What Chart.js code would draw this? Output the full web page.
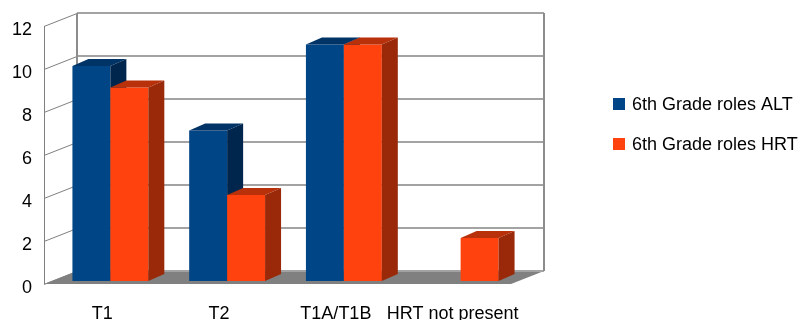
<!DOCTYPE html>
<html lang="en">
  <head>
    <meta charset="utf-8" />
    <title>6th Grade roles</title>
    <style>
      * {
        margin: 0;
        padding: 0;
      }
      body {
        background: white;
      }
      .chartBox {
        width: 802px;
        height: 320px;
      }
    </style>
  </head>
  <body>
    <div class="chartBox">
      <canvas id="myChart"></canvas>
    </div>

    <script src="https://cdn.jsdelivr.net/npm/chart.js"></script>

    <script>
      const categories = ["T1", "T2", "T1A/T1B", "HRT not present"];
      const altValues = [10, 7, 11, 0];
      const hrtValues = [9, 4, 11, 2];
      const seriesNames = ["6th Grade roles ALT", "6th Grade roles HRT"];

      const FONT = "Liberation Sans, Arial, sans-serif";
      // depth of the box and of the bars (pixels)
      const wallDx = 33, wallDy = -13;
      const barDx = 16, barDy = -7;
      const barShiftX = 8, barShiftY = -3;

      const faceColors = [
        { front: "#004586", top: "#003366", side: "#00264d" },
        { front: "#ff420e", top: "#b8310b", side: "#9a2909" },
      ];

      const box3d = {
        id: "box3d",
        beforeDatasetsDraw(chart) {
          const { ctx, chartArea: { left, right, top, bottom }, scales: { y } } = chart;
          ctx.save();
          // left wall
          ctx.fillStyle = "#ffffff";
          ctx.beginPath();
          ctx.moveTo(left, bottom);
          ctx.lineTo(left, top);
          ctx.lineTo(left + wallDx, top + wallDy);
          ctx.lineTo(left + wallDx, bottom + wallDy);
          ctx.closePath();
          ctx.fill();
          // floor
          ctx.fillStyle = "#808080";
          ctx.beginPath();
          ctx.moveTo(left, bottom);
          ctx.lineTo(right, bottom);
          ctx.lineTo(right + wallDx, bottom + wallDy);
          ctx.lineTo(left + wallDx, bottom + wallDy);
          ctx.closePath();
          ctx.fill();

          // grid on back wall and left wall
          y.ticks.forEach((t) => {
            const py = y.getPixelForValue(t.value);
            ctx.strokeStyle = "#a3a3a3";
            ctx.lineWidth = 2;
            ctx.beginPath();
            ctx.moveTo(left + wallDx, py + wallDy);
            ctx.lineTo(right + wallDx, py + wallDy);
            ctx.stroke();
            ctx.strokeStyle = "#808080";
            ctx.lineWidth = 1;
            ctx.beginPath();
            ctx.moveTo(left, py + 0.5);
            ctx.lineTo(left + wallDx, py + wallDy + 0.5);
            ctx.stroke();
          });

          // wall edges
          ctx.strokeStyle = "#8c8c8c";
          ctx.lineWidth = 2;
          ctx.beginPath();
          ctx.moveTo(left + wallDx, top + wallDy);
          ctx.lineTo(left + wallDx, bottom + wallDy);
          ctx.moveTo(right + wallDx, top + wallDy);
          ctx.lineTo(right + wallDx, bottom + wallDy);
          ctx.stroke();
          ctx.strokeStyle = "#808080";
          ctx.lineWidth = 1;
          ctx.beginPath();
          ctx.moveTo(left + 0.5, top);
          ctx.lineTo(left + 0.5, bottom);
          ctx.stroke();
          ctx.restore();
        },
        afterDatasetsDraw(chart) {
          // draw bars left to right as blocks: front, top, side
          const { ctx, data } = chart;
          ctx.save();
          ctx.translate(barShiftX, barShiftY);
          data.labels.forEach((lbl, i) => {
            data.datasets.forEach((ds, d) => {
              if (!ds.data[i]) return;
              const bar = chart.getDatasetMeta(d).data[i];
              const { x, y, base, width } = bar.getProps(["x", "y", "base", "width"], true);
              const x0 = x - width / 2;
              const x1 = x + width / 2;
              ctx.fillStyle = faceColors[d].front;
              ctx.fillRect(x0, y, width, base - y);
              ctx.fillStyle = faceColors[d].top;
              ctx.beginPath();
              ctx.moveTo(x0, y);
              ctx.lineTo(x0 + barDx, y + barDy);
              ctx.lineTo(x1 + barDx, y + barDy);
              ctx.lineTo(x1, y);
              ctx.closePath();
              ctx.fill();
              ctx.fillStyle = faceColors[d].side;
              ctx.beginPath();
              ctx.moveTo(x1, y);
              ctx.lineTo(x1 + barDx, y + barDy);
              ctx.lineTo(x1 + barDx, base + barDy);
              ctx.lineTo(x1, base);
              ctx.closePath();
              ctx.fill();
            });
          });
          ctx.restore();
        },
        afterDraw(chart) {
          const { ctx } = chart;
          ctx.save();
          ctx.font = "18px " + FONT;
          ctx.textBaseline = "middle";
          ctx.textAlign = "left";
          chart.data.datasets.forEach((ds, i) => {
            const cy = 104 + i * 40;
            ctx.fillStyle = faceColors[i].front;
            ctx.fillRect(613, cy - 6, 12, 12);
            ctx.fillStyle = "#000000";
            ctx.fillText(ds.label, 632, cy + 1);
          });
          ctx.restore();
        },
      };

      const data = {
        labels: categories,
        datasets: [
          {
            label: seriesNames[0],
            data: altValues,
            backgroundColor: "rgba(0,0,0,0)",
          },
          {
            label: seriesNames[1],
            data: hrtValues,
            backgroundColor: "rgba(0,0,0,0)",
          },
        ],
      };

      const config = {
        type: "bar",
        data: data,
        options: {
          responsive: true,
          maintainAspectRatio: false,
          animation: false,
          events: [],
          layout: {
            padding: { left: 0, top: 26, right: 291, bottom: 0 },
          },
          datasets: {
            bar: {
              categoryPercentage: 0.65,
              barPercentage: 1,
              borderWidth: 0,
            },
          },
          plugins: {
            legend: { display: false },
            tooltip: { enabled: false },
          },
          scales: {
            x: {
              grid: { display: false },
              border: { display: false },
              ticks: {
                color: "#000000",
                font: { family: FONT, size: 18 },
                padding: 11,
                maxRotation: 0,
                autoSkip: false,
              },
              afterFit(scale) {
                scale.height = 36;
              },
            },
            y: {
              min: 0,
              max: 12,
              grid: { display: false, drawTicks: false },
              border: { display: false },
              ticks: {
                stepSize: 2,
                color: "#000000",
                font: { family: FONT, size: 18 },
                padding: 12,
                labelOffset: 4,
              },
              afterFit(scale) {
                scale.width = 44;
              },
            },
          },
        },
        plugins: [box3d],
      };

      const myChart = new Chart(document.getElementById("myChart"), config);
    </script>
  </body>
</html>
